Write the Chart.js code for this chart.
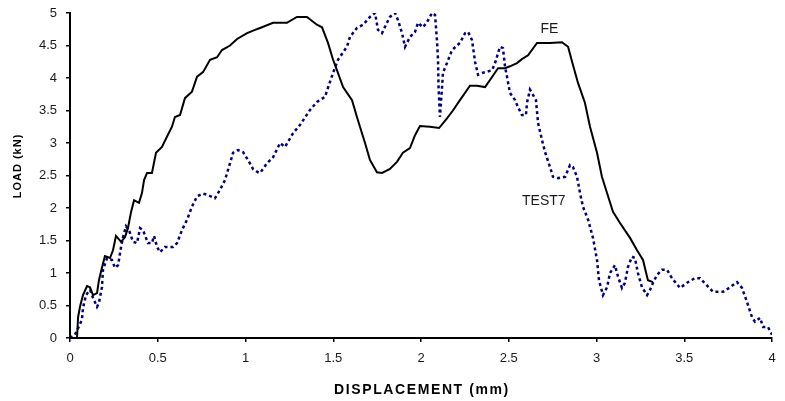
<!DOCTYPE html>
<html>
<head>
<meta charset="utf-8">
<script src="https://cdn.jsdelivr.net/npm/chart.js@4/dist/chart.umd.min.js"></script>
<style>
  body { margin: 0; background: #fff; }
  #wrap { width: 785px; height: 401px; position: relative; }
</style>
</head>
<body>
<div id="wrap"><canvas id="loadChart"></canvas></div>
<script>
// FE curve (displacement mm, load kN)
const feX = [0, 0.04, 0.046, 0.057, 0.074, 0.097, 0.114, 0.131, 0.154, 0.165, 0.182, 0.199, 0.228, 0.245, 0.262, 0.291, 0.313, 0.33, 0.348, 0.365, 0.393, 0.41, 0.422, 0.439, 0.467, 0.49, 0.524, 0.553, 0.581, 0.598, 0.627, 0.655, 0.695, 0.724, 0.758, 0.798, 0.838, 0.866, 0.912, 0.952, 1.009, 1.054, 1.083, 1.157, 1.236, 1.293, 1.35, 1.407, 1.436, 1.47, 1.499, 1.521, 1.556, 1.607, 1.635, 1.681, 1.709, 1.749, 1.778, 1.823, 1.863, 1.897, 1.937, 1.966, 1.994, 2.051, 2.103, 2.148, 2.182, 2.222, 2.279, 2.319, 2.365, 2.393, 2.439, 2.479, 2.507, 2.547, 2.575, 2.61, 2.661, 2.735, 2.803, 2.838, 2.866, 2.895, 2.934, 2.963, 3.003, 3.031, 3.06, 3.094, 3.134, 3.191, 3.231, 3.265, 3.293, 3.322];
const feY = [0, 0, 0.32, 0.48, 0.66, 0.8, 0.78, 0.66, 0.69, 0.89, 1.08, 1.26, 1.23, 1.35, 1.57, 1.48, 1.55, 1.69, 1.94, 2.12, 2.08, 2.23, 2.43, 2.54, 2.54, 2.85, 2.94, 3.1, 3.25, 3.4, 3.43, 3.69, 3.79, 4.02, 4.09, 4.28, 4.32, 4.43, 4.5, 4.6, 4.69, 4.74, 4.77, 4.85, 4.85, 4.94, 4.94, 4.82, 4.78, 4.54, 4.28, 4.12, 3.86, 3.66, 3.4, 3.0, 2.74, 2.55, 2.54, 2.6, 2.71, 2.85, 2.92, 3.12, 3.26, 3.25, 3.23, 3.38, 3.5, 3.66, 3.88, 3.88, 3.86, 3.97, 4.15, 4.15, 4.18, 4.23, 4.29, 4.35, 4.54, 4.54, 4.55, 4.48, 4.2, 3.92, 3.62, 3.25, 2.85, 2.48, 2.23, 1.94, 1.77, 1.54, 1.35, 1.2, 0.89, 0.86];

// TEST7 curve
const t7X = [0, 0.028, 0.046, 0.068, 0.074, 0.091, 0.114, 0.131, 0.154, 0.165, 0.182, 0.188, 0.211, 0.239, 0.256, 0.274, 0.291, 0.302, 0.319, 0.336, 0.359, 0.382, 0.399, 0.416, 0.433, 0.444, 0.467, 0.479, 0.496, 0.513, 0.541, 0.587, 0.61, 0.638, 0.667, 0.695, 0.724, 0.758, 0.786, 0.826, 0.855, 0.883, 0.912, 0.929, 0.957, 0.986, 1.014, 1.043, 1.071, 1.083, 1.123, 1.157, 1.197, 1.225, 1.271, 1.311, 1.368, 1.407, 1.453, 1.47, 1.499, 1.527, 1.578, 1.595, 1.635, 1.67, 1.709, 1.738, 1.755, 1.778, 1.806, 1.823, 1.852, 1.869, 1.892, 1.909, 1.937, 1.966, 1.983, 2.011, 2.034, 2.063, 2.08, 2.091, 2.097, 2.1, 2.108, 2.12, 2.125, 2.148, 2.177, 2.222, 2.251, 2.268, 2.291, 2.308, 2.325, 2.353, 2.405, 2.422, 2.45, 2.467, 2.479, 2.49, 2.507, 2.536, 2.553, 2.575, 2.598, 2.604, 2.621, 2.638, 2.655, 2.667, 2.689, 2.707, 2.735, 2.752, 2.781, 2.821, 2.849, 2.866, 2.889, 2.906, 2.923, 2.952, 2.98, 3.003, 3.014, 3.037, 3.06, 3.077, 3.105, 3.123, 3.145, 3.162, 3.179, 3.202, 3.219, 3.236, 3.259, 3.288, 3.305, 3.322, 3.345, 3.373, 3.402, 3.43, 3.476, 3.516, 3.561, 3.59, 3.664, 3.721, 3.761, 3.801, 3.829, 3.858, 3.886, 3.903, 3.932, 3.949, 3.977, 4.0];
const t7Y = [0, 0.05, 0.15, 0.28, 0.46, 0.66, 0.74, 0.62, 0.48, 0.54, 0.78, 1.05, 1.23, 1.2, 1.08, 1.12, 1.4, 1.55, 1.72, 1.66, 1.48, 1.46, 1.69, 1.66, 1.54, 1.46, 1.46, 1.57, 1.4, 1.32, 1.4, 1.4, 1.46, 1.66, 1.82, 2.02, 2.18, 2.22, 2.2, 2.15, 2.28, 2.43, 2.69, 2.85, 2.89, 2.86, 2.74, 2.6, 2.55, 2.54, 2.69, 2.78, 3.0, 2.94, 3.15, 3.28, 3.51, 3.63, 3.71, 3.85, 4.08, 4.28, 4.48, 4.63, 4.77, 4.82, 4.94, 5.0, 4.74, 4.69, 4.85, 4.94, 5.0, 4.89, 4.69, 4.48, 4.63, 4.71, 4.85, 4.78, 4.86, 5.0, 4.97, 4.58, 4.28, 3.86, 3.4, 3.86, 4.08, 4.23, 4.43, 4.54, 4.69, 4.71, 4.58, 4.25, 4.05, 4.08, 4.12, 4.23, 4.48, 4.46, 4.17, 4.02, 3.77, 3.66, 3.55, 3.43, 3.43, 3.62, 3.82, 3.74, 3.66, 3.31, 3.05, 2.86, 2.63, 2.48, 2.46, 2.48, 2.66, 2.63, 2.48, 2.23, 2.02, 1.82, 1.54, 1.2, 0.89, 0.66, 0.78, 1.0, 1.12, 0.94, 0.77, 0.85, 1.09, 1.25, 1.23, 1.0, 0.78, 0.66, 0.74, 0.85, 0.97, 1.05, 1.05, 0.92, 0.77, 0.85, 0.92, 0.92, 0.71, 0.71, 0.78, 0.86, 0.77, 0.55, 0.32, 0.25, 0.31, 0.17, 0.17, 0.05];

const seriesNames = ['FE', 'TEST7'];
const xTitle = 'DISPLACEMENT (mm)';
const yTitle = 'LOAD (kN)';

const FONT = '"Liberation Sans", Arial, sans-serif';

const toPoints = (xs, ys) => xs.map((x, i) => ({ x: x, y: ys[i] }));
const fmt = v => String(Number(v.toFixed(2)));

// curve labels placed in data units, plus axis titles with letter spacing
const textPlugin = {
  id: 'textPlugin',
  afterDraw(chart) {
    const ctx = chart.ctx;
    const xs = chart.scales.x, ys = chart.scales.y;
    ctx.save();
    ctx.fillStyle = '#1a1a1a';
    ctx.font = '14px ' + FONT;
    ctx.textAlign = 'center';
    ctx.textBaseline = 'middle';
    ctx.fillText(seriesNames[0], xs.getPixelForValue(2.732), ys.getPixelForValue(4.75));
    ctx.fillText(seriesNames[1], xs.getPixelForValue(2.70), ys.getPixelForValue(2.11));

    // x title
    ctx.fillStyle = '#000';
    ctx.font = 'bold 14px ' + FONT;
    ctx.letterSpacing = '1.6px';
    ctx.fillText(xTitle, (xs.left + xs.right) / 2 + 1, 390);

    // y title
    ctx.font = 'bold 11px ' + FONT;
    ctx.letterSpacing = '1px';
    ctx.translate(17.5, 166);
    ctx.rotate(-Math.PI / 2);
    ctx.fillText(yTitle, 0, 0);
    ctx.restore();
  }
};

new Chart(document.getElementById('loadChart'), {
  type: 'line',
  data: {
    datasets: [
      {
        label: seriesNames[0],
        data: toPoints(feX, feY),
        borderColor: '#000000',
        borderWidth: 2,
        pointRadius: 0,
        tension: 0,
      },
      {
        label: seriesNames[1],
        data: toPoints(t7X, t7Y),
        borderColor: '#000080',
        borderWidth: 2.5,
        borderDash: [3, 3],
        borderCapStyle: 'butt',
        pointRadius: 0,
        tension: 0,
      }
    ]
  },
  options: {
    responsive: true,
    maintainAspectRatio: false,
    animation: false,
    layout: { padding: { top: 13, right: 13, left: 0, bottom: 0 } },
    plugins: {
      legend: { display: false },
      tooltip: { enabled: false }
    },
    scales: {
      x: {
        type: 'linear',
        min: 0,
        max: 4,
        afterFit: s => { s.height = 63; s.paddingLeft = 0; s.paddingRight = 0; },
        ticks: { stepSize: 0.5, padding: 9, color: '#1a1a1a', font: { family: FONT, size: 13 }, callback: fmt },
        grid: { drawOnChartArea: false, drawTicks: true, tickLength: 4, color: '#000', lineWidth: 1.5 },
        border: { color: '#000', width: 2 }
      },
      y: {
        min: 0,
        max: 5,
        afterFit: s => { s.width = 70; s.paddingTop = 0; s.paddingBottom = 0; },
        ticks: { stepSize: 0.5, padding: 9, color: '#1a1a1a', font: { family: FONT, size: 13 }, callback: fmt },
        grid: { drawOnChartArea: false, drawTicks: true, tickLength: 4, color: '#000', lineWidth: 1.5 },
        border: { color: '#000', width: 2 }
      }
    }
  },
  plugins: [textPlugin]
});
</script>
</body>
</html>
